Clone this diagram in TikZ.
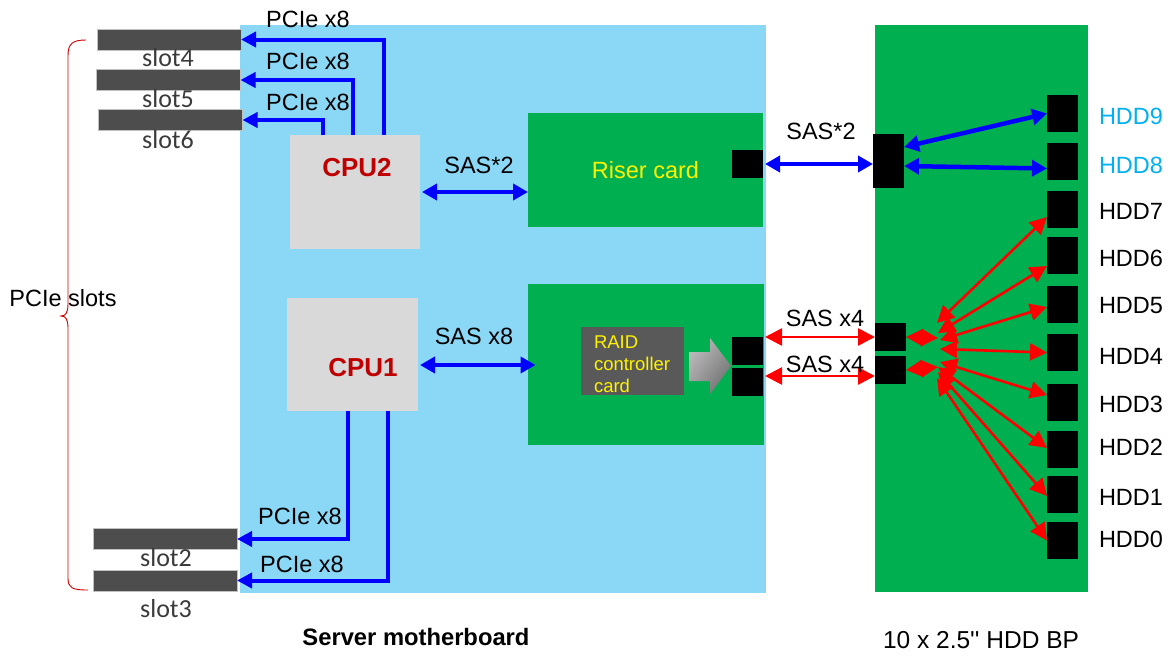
\documentclass[tikz,border=0pt]{standalone}
\usepackage{fontspec}
\setmainfont{Liberation Sans}
\newfontfamily\slotfont{Carlito}
\newfontfamily\plainsans{Liberation Sans}
\usepackage{tikz}
\usetikzlibrary{arrows.meta,calc,shadings}

\definecolor{mbblue}{HTML}{8AD8F6}
\definecolor{bdgreen}{HTML}{00B050}
\definecolor{cpugray}{HTML}{D9D9D9}
\definecolor{raidgray}{HTML}{595959}
\definecolor{slotgray}{HTML}{4D4D4D}
\definecolor{slotedge}{HTML}{C0C0C0}
\definecolor{slottext}{HTML}{3A3A3A}
\definecolor{cputext}{HTML}{C00000}
\definecolor{hddcyan}{HTML}{00B0F0}
\definecolor{bracered}{HTML}{D00000}

\begin{document}
\begin{tikzpicture}[x=1pt,y=-1pt,
    every node/.style={inner sep=0pt,outer sep=0pt},
    lbl/.style={font=\fontsize{23.5}{28}\selectfont},
    cpulbl/.style={font=\fontsize{26}{30}\selectfont\bfseries,text=cputext},
    slotlbl/.style={font=\slotfont\fontsize{26}{30}\selectfont,text=slottext},
    slotbar/.style={fill=slotgray,draw=slotedge,line width=0.8pt,minimum width=144pt,minimum height=21pt},
    conn/.style={fill=black,minimum width=31pt,minimum height=28pt},
    hdd/.style={fill=black,minimum width=31pt,minimum height=37pt},
    pcie/.style={draw=blue,line width=4pt,-{Triangle[length=15pt,width=15pt]}},
    sasb/.style={draw=blue,line width=4.5pt,{Triangle[length=15pt,width=16pt]}-{Triangle[length=15pt,width=16pt]}},
    sasr/.style={draw=red,line width=2.6pt,{Triangle[length=17pt,width=17pt]}-{Triangle[length=17pt,width=17pt]}}]
    \useasboundingbox (0,0) rectangle (1169,656);

    % boards
    \node[fill=mbblue,minimum width=526pt,minimum height=568pt] (mb) at (503,309) {};
    \node[fill=bdgreen,minimum width=213pt,minimum height=567pt] (bp) at (981.5,308.5) {};
    \node[fill=cpugray,minimum width=130pt,minimum height=114pt] (cpu2) at (355,192) {};
    \node[fill=cpugray,minimum width=131pt,minimum height=113pt] (cpu1) at (352.5,354.5) {};
    \node[cpulbl] (cpu2txt) at (357,168) {CPU2};
    \node[cpulbl] (cpu1txt) at (363,368) {CPU1};
    \node[fill=bdgreen,minimum width=235pt,minimum height=114pt,lbl,text=yellow] (riser) at (645.5,170) {Riser card};
    \node[fill=bdgreen,minimum width=236pt,minimum height=161pt] (raidbd) at (645.5,364.5) {};
    \node[fill=raidgray,minimum width=103pt,minimum height=68pt] (raid) at (632.5,361) {};
    \node[font=\fontsize{18.5}{22}\selectfont,text=yellow,align=left,anchor=west] (raidtxt) at (594,364) {RAID\\controller\\card};
    \shade[upper left=black!22,upper right=black!40,lower left=black!40,lower right=black!62]
        (689,352) -- (710,352) -- (710,338) -- (731,366) -- (710,394) -- (710,381) -- (689,381) -- cycle;

    % connectors
    \node[conn] (rc) at (747.5,164) {};
    \node[conn] (ra) at (747.5,351) {};
    \node[conn] (rb) at (747.5,382) {};
    \node[conn,minimum height=54pt] (bpc) at (888.5,161) {};
    \node[conn] (bpa) at (890.5,337) {};
    \node[conn] (bpb) at (890.5,370) {};
    \foreach \n/\y in {9/113.5,8/161.5,7/209.5,6/255,5/304.5,4/352.5,3/402.5,2/449.5,1/494.5,0/540.5}
        \node[hdd] (hdd\n) at (1062.5,\y) {};
    \foreach \n/\y/\c in {9/116/hddcyan,8/165/hddcyan,7/211/black,6/258/black,5/306/black,
                          4/356/black,3/404/black,2/447/black,1/497/black,0/539/black}
        \node[lbl,anchor=west,text=\c] (hddlbl\n) at (1099,\y) {HDD\n};

    % PCIe slots
    \node[slotbar] (slot4) at (169,39.5) {};
    \node[slotbar] (slot5) at (168.5,80) {};
    \node[slotbar] (slot6) at (170.5,120) {};
    \node[slotbar] (slot2) at (165,539) {};
    \node[slotbar] (slot3) at (165,580.5) {};
    \node[slotlbl] (slot4lbl) at (168,58) {slot4};
    \node[slotlbl] (slot5lbl) at (168,99) {slot5};
    \node[slotlbl] (slot6lbl) at (168,140) {slot6};
    \node[slotlbl] (slot2lbl) at (166,558) {slot2};
    \node[slotlbl] (slot3lbl) at (166,609) {slot3};
    \draw[bracered,line width=0.9pt] (86,40) .. controls (72,40) and (68,44) .. (68,56) -- (68,304)
        .. controls (68,312) and (66,316) .. (61,316) .. controls (66,316) and (68,320) .. (68,328)
        -- (68,578) .. controls (68,588) and (72,590) .. (88,590);
    \node[lbl] (slotslbl) at (63,298) {PCIe slots};

    % PCIe links
    \draw[pcie] ([xshift=94pt]cpu2.north west) |- (slot4.east);
    \draw[pcie] ([xshift=63pt]cpu2.north west) |- (slot5.east);
    \draw[pcie] ([xshift=33pt]cpu2.north west) |- (slot6.east);
    \draw[pcie] ([xshift=61pt]cpu1.south west) |- (slot2.east);
    \draw[pcie] ([xshift=101pt]cpu1.south west) |- (slot3.east);
    \node[lbl] (p4) at (308,19) {PCIe x8};
    \node[lbl] (p5) at (308,61) {PCIe x8};
    \node[lbl] (p6) at (308,102) {PCIe x8};
    \node[lbl] (p2) at (300,516) {PCIe x8};
    \node[lbl] (p3) at (302,564) {PCIe x8};

    % SAS links
    \draw[sasb] ([xshift=2pt]cpu2.east) -- (cpu2.east -| riser.west);
    \node[lbl] (s1) at (479,165) {SAS*2};
    \draw[sasb] ([shift={(2pt,-10.5pt)}]cpu1.east) -- ([shift={(8pt,-10.5pt)}]cpu1.east -| raidbd.west);
    \node[lbl] (s2) at (474,336) {SAS x8};
    \draw[sasb] ([xshift=2pt]rc.east) -- (rc.east -| bpc.west);
    \node[lbl] (s3) at (821,131) {SAS*2};
    \draw[sasr] ([xshift=2pt]bpa.west -| ra.east) -- (bpa.west);
    \node[lbl] (s4) at (825,318) {SAS x4};
    \draw[sasr] ([shift={(2pt,6pt)}]rb.east) -- ([yshift=6pt]rb.east -| bpb.west);
    \node[lbl] (s5) at (825,364) {SAS x4};

    % backplane fan-out
    \draw[sasb] ([yshift=14pt]bpc.east) -- (hdd9.west);
    \draw[sasb] ([yshift=-5pt]bpc.east) -- ([yshift=-7pt]hdd8.west);
    \coordinate (hubA) at (938,338);
    \coordinate (hubB) at (938,367);
    \draw[sasr] (bpa.east) -- (hubA);
    \draw[sasr] (bpb.east) -- (hubB);
    \foreach \n/\fx/\fy/\dy in {7/937/323/-7.5,6/938/333/-11,5/940/340/-2.5,4/940/349/0,
                                3/940/362/7.5,2/938/367/1.5,1/938/372/-1.5,0/937/378/0} {
        \coordinate (fan\n) at (\fx,\fy);
        \draw[sasr] (fan\n) -- ([yshift=\dy pt]hdd\n.west);
    }

    \node[font=\fontsize{23.75}{28}\selectfont\bfseries] (mblbl) at (416,637) {Server motherboard};
    \node[font=\plainsans\fontsize{24.5}{28}\selectfont] (bplbl) at (981,640) {10 x 2.5'' HDD BP};
\end{tikzpicture}
\end{document}
